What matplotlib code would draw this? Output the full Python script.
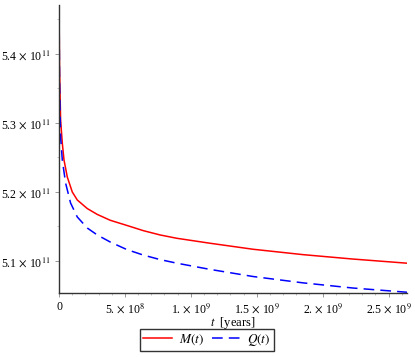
import matplotlib
matplotlib.use("Agg")
import matplotlib.pyplot as plt
from matplotlib.ticker import FixedLocator, MultipleLocator

# Data (t in years, values in units of 1e11)
t_M = [0, 0.004e9, 0.0121e9, 0.025e9, 0.0379e9, 0.0629e9, 0.1008e9, 0.1386e9,
       0.2144e9, 0.2902e9, 0.3886e9, 0.5152e9, 0.6409e9, 0.7674e9, 0.8939e9,
       1.1462e9, 1.472e9, 1.851e9, 2.23e9, 2.64e9]
M_vals = [5.48, 5.38, 5.3043, 5.271, 5.2464, 5.2217, 5.200, 5.1884,
          5.176, 5.1675, 5.159, 5.1515, 5.1439, 5.1377, 5.1329,
          5.1257, 5.117, 5.1092, 5.1028, 5.0968]
t_Q = [0, 0.004e9, 0.0121e9, 0.025e9, 0.05e9, 0.0879e9, 0.1386e9, 0.2144e9,
       0.2902e9, 0.3886e9, 0.5152e9, 0.6409e9, 0.7674e9, 0.8939e9, 1.1462e9,
       1.472e9, 1.851e9, 2.23e9, 2.64e9]
Q_vals = [5.48, 5.36, 5.2797, 5.2464, 5.213, 5.184, 5.1638, 5.1478,
          5.1377, 5.1275, 5.1165, 5.1085, 5.102, 5.0968, 5.0878,
          5.0775, 5.0683, 5.0608, 5.0547]

x_ticks = [0, 5e8, 1e9, 1.5e9, 2e9, 2.5e9]
x_tick_labels = ["0", r"5. $\times$ 10$^{8}$", r"1. $\times$ 10$^{9}$",
                 r"1.5 $\times$ 10$^{9}$", r"2. $\times$ 10$^{9}$", r"2.5 $\times$ 10$^{9}$"]
y_ticks = [5.1e11, 5.2e11, 5.3e11, 5.4e11]
y_tick_labels = [r"5.1 $\times$ 10$^{11}$", r"5.2 $\times$ 10$^{11}$",
                 r"5.3 $\times$ 10$^{11}$", r"5.4 $\times$ 10$^{11}$"]

plt.rcParams['font.family'] = ['Liberation Serif', 'DejaVu Serif']
plt.rcParams['mathtext.fontset'] = 'stix'

W, H = 415, 357
fig = plt.figure(figsize=(W / 100, H / 100), dpi=100)
left, right, top, bottom = 59, 407, 5, 293
ax = fig.add_axes([left / W, 1 - bottom / H, (right - left) / W, (bottom - top) / H])

ax.plot(t_M, [v * 1e11 for v in M_vals], color='#ff0000', lw=1.1, label=r'$M(t)$')
ax.plot(t_Q, [v * 1e11 for v in Q_vals], color='#0000ff', lw=1.1,
        dashes=(7, 4), label=r'$Q(t)$')

ax.set_xlim(0, 2.64e9)
ax.set_ylim(5.0536e11, 5.471e11)

for s in ['top', 'right']:
    ax.spines[s].set_visible(False)
for s in ['left', 'bottom']:
    ax.spines[s].set_linewidth(1.0)
    ax.spines[s].set_color('#333333')

ax.xaxis.set_major_locator(FixedLocator(x_ticks))
ax.set_xticklabels(x_tick_labels)
ax.xaxis.set_minor_locator(MultipleLocator(1e8))
ax.yaxis.set_major_locator(FixedLocator(y_ticks))
ax.set_yticklabels(y_tick_labels)
ax.yaxis.set_minor_locator(MultipleLocator(0.05e11))
ax.tick_params(axis='both', which='major', labelsize=8.5, length=3, width=0.6,
               color='#888888', pad=3)
ax.tick_params(axis='both', which='minor', length=1.5, width=0.5, color='#aaaaaa')

ax.set_xlabel(r'$t$  [years]', fontsize=9, labelpad=0)

leg = fig.legend(loc='center', bbox_to_anchor=(207 / W, 1 - 340 / H), ncol=2,
                 fontsize=9.5, frameon=True, fancybox=False, edgecolor='black',
                 handlelength=2.2, columnspacing=0.6, handletextpad=0.5,
                 borderpad=0.2, borderaxespad=0)
leg.get_frame().set_linewidth(1.0)

fig.savefig('out.png', dpi=100)
